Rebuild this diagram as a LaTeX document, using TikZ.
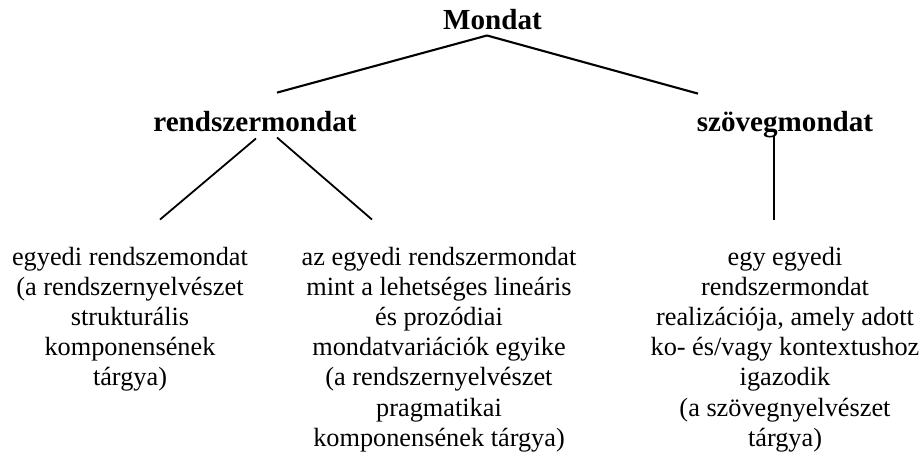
\documentclass[tikz,border=0pt]{standalone}
\usepackage{fontspec}
\setmainfont{Liberation Serif}
\usepackage{tikz}

\begin{document}
\begin{tikzpicture}[x=1pt,y=-1pt,
		fej/.style={font=\bfseries\fontsize{29.1}{33}\selectfont,inner sep=0pt,anchor=base},
		level/.style={font=\fontsize{26.3}{30.2}\selectfont,align=center,inner sep=0pt,anchor=base},
		ag/.style={line width=2.1pt},
		agv/.style={line width=1.3pt}]
				\useasboundingbox (0,0) rectangle (923,456);
				\node[fej] (mondat) at (492.5,29) {Mondat};
				\node[fej] (rendsz) at (255,131) {rendszermondat};
				\node[fej] (szoveg) at (785,131) {szövegmondat};
				% also szint, base = utolso sor
				\node[level] (egyedi) at (130,385.8) {egyedi rendszemondat\\(a rendszernyelvészet\\strukturális\\komponensének\\tárgya)};
				\node[level] (variacio) at (439,446.2) {az egyedi rendszermondat\\mint a lehetséges lineáris\\és prozódiai\\mondatvariációk egyike\\(a rendszernyelvészet\\pragmatikai\\komponensének tárgya)};
				\node[level] (realiz) at (785,446.2) {egy egyedi\\rendszermondat\\realizációja, amely adott\\ko- és/vagy kontextushoz\\igazodik\\(a szövegnyelvészet\\tárgya)};
				\draw[ag] ([xshift=-5.5pt,yshift=-6pt]mondat.south) -- ([xshift=22pt,yshift=18pt]rendsz.north);
				\draw[ag] ([xshift=-5.5pt,yshift=-6pt]mondat.south) -- ([xshift=-87pt,yshift=17pt]szoveg.north);
				\draw[ag,line width=1.8pt] ([xshift=1pt,yshift=-7pt]rendsz.south) -- ([xshift=30pt,yshift=27pt]egyedi.north);
				\draw[ag,line width=1.8pt] ([xshift=22pt,yshift=-6pt]rendsz.south) -- ([xshift=-67pt,yshift=27pt]variacio.north);
				\draw[agv] ([xshift=-11pt,yshift=2pt]szoveg.south) -- ([xshift=-11pt,yshift=27pt]realiz.north);
			\end{tikzpicture}
\end{document}
